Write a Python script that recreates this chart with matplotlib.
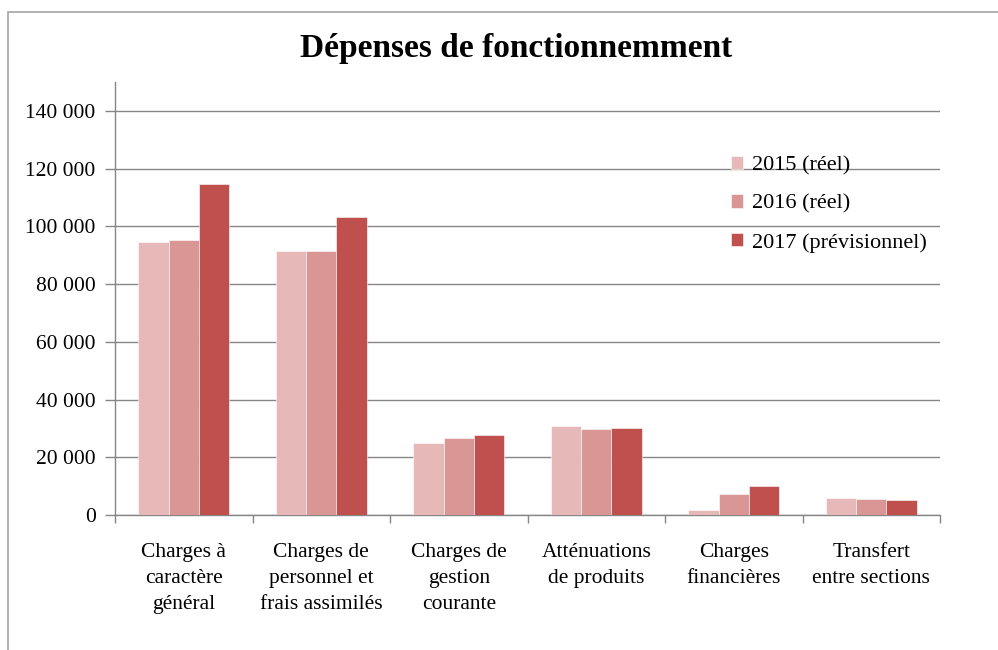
import matplotlib
matplotlib.use("Agg")
import matplotlib.pyplot as plt
import numpy as np
from matplotlib.patches import Rectangle
from matplotlib.ticker import FuncFormatter

categories = ["Charges à\ncaractère\ngénéral", "Charges de\npersonnel et\nfrais assimilés",
              "Charges de\ngestion\ncourante", "Atténuations\nde produits",
              "Charges\nfinancières", "Transfert\nentre sections"]
series_names = ["2015 (réel)", "2016 (réel)", "2017 (prévisionnel)"]
v2015 = [94700, 91400, 25000, 30700, 1800, 6000]
v2016 = [95200, 91400, 26800, 29900, 7400, 5700]
v2017 = [114600, 103100, 27800, 30300, 10200, 5200]
colors = ["#E6B8B7", "#DA9694", "#C0504D"]

plt.rcParams['font.family'] = ['Liberation Serif', 'DejaVu Serif']

fig = plt.figure(figsize=(9.98, 6.5), dpi=100)
W, H = 998, 650
ax = fig.add_axes([115 / W, 1 - 515 / H, (940 - 115) / W, (515 - 82) / H])

x = np.arange(len(categories))
bw = 0.22
for i, (vals, c, n) in enumerate(zip([v2015, v2016, v2017], colors, series_names)):
    ax.bar(x + (i - 1) * bw, vals, width=bw, color=c, label=n, zorder=3,
           edgecolor='white', linewidth=0.4)

ax.set_xlim(-0.5, len(categories) - 0.5)
ax.set_ylim(0, 150000)
ax.set_yticks(np.arange(0, 140001, 20000))
ax.yaxis.set_major_formatter(FuncFormatter(lambda v, p: f"{int(v):,}".replace(",", " ")))
ax.grid(axis='y', color='#868686', linewidth=1.0, zorder=0)
ax.set_axisbelow(True)

ax.set_xticks(x)
ax.set_xticklabels(categories, fontsize=15.5, linespacing=1.5)
ax.set_xticks(np.arange(-0.5, len(categories)), minor=True)
ax.tick_params(axis='x', which='major', length=0, pad=20)
ax.tick_params(axis='x', which='minor', length=6, color='#868686', width=1)
ax.tick_params(axis='y', length=7, color='#868686', width=1, labelsize=15.5, pad=7)

for s in ['top', 'right']:
    ax.spines[s].set_visible(False)
for s in ['left', 'bottom']:
    ax.spines[s].set_color('#868686')
    ax.spines[s].set_linewidth(1.0)

fig.text(516 / W, 1 - 49 / H, "Dépenses de fonctionnemment", ha='center', va='center',
         fontsize=24, fontweight='bold')

leg = ax.legend(loc='upper left', bbox_to_anchor=((722 - 115) / (940 - 115), (515 - 147) / (515 - 82)),
                frameon=False, fontsize=16, handlelength=0.55, handleheight=0.55,
                handletextpad=0.4, labelspacing=0.85, borderaxespad=0)

fig.patches.append(Rectangle((8 / W, -0.1), 1.2, 1 - 12 / H + 0.1, transform=fig.transFigure,
                             fill=False, edgecolor='#A6A6A6', linewidth=1.2))

fig.savefig("out.png", dpi=100)
